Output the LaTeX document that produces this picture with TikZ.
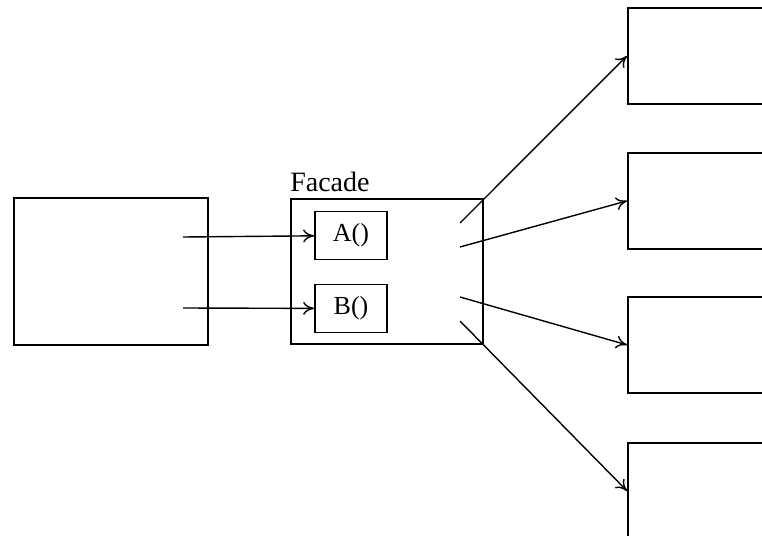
\documentclass[tikz,border=0pt]{standalone}
\usepackage{fontspec}
\setmainfont{Liberation Serif}
\usetikzlibrary{arrows.meta,positioning}

\begin{document}
\begin{tikzpicture}[
    x=1pt, y=-1pt,
    box/.style={rectangle, draw, line width=1.8pt, inner sep=0pt},
    meth/.style={box, minimum width=72pt, minimum height=48pt,
                 font=\fontsize{26}{30}\selectfont},
    sub/.style={box, minimum width=220pt, minimum height=96pt, anchor=north west},
    arrow/.style={-{To[length=11pt,width=13pt]}, line width=1.4pt}
]
\clip (0,0) rectangle (762,535);
\useasboundingbox (0,0) rectangle (762,535);

%% ── Nodes ────────────────────────────────────────────────────────
\node[box, minimum width=194pt, minimum height=147pt] (client) at (111,271.5) {};

\node[box, minimum width=192pt, minimum height=145pt] (facade) at (387,271.5) {};
\node[font=\fontsize{28}{32}\selectfont, inner sep=0pt,
      above=6pt of facade.north west, anchor=south west] (flabel) {Facade};

\node[meth] (methA) at (351,235.5) {A()};
\node[meth] (methB) at (351,308.5) {B()};

\node[sub] (sub1) at (627,7)   {};
\node[sub] (sub2) at (627,152) {};
\node[sub] (sub3) at (627,296) {};
\node[sub] (sub4) at (627,442) {};

%% ── Arrow ends inside the boxes ─────────────────────────────────
\coordinate (cA) at (183,237);
\coordinate (cB) at (183,308);
\coordinate (f1) at (460,223);
\coordinate (f2) at (460,247);
\coordinate (f3) at (460,297);
\coordinate (f4) at (460,321);

%% ── Arrows ───────────────────────────────────────────────────────
\draw[arrow] (cA) -- (methA);
\draw[arrow] (cB) -- (methB);
\draw[arrow] (f1) -- (sub1.west);
\draw[arrow] (f2) -- (sub2.west);
\draw[arrow] (f3) -- (sub3.west);
\draw[arrow] (f4) -- (sub4.west);
\end{tikzpicture}
\end{document}
